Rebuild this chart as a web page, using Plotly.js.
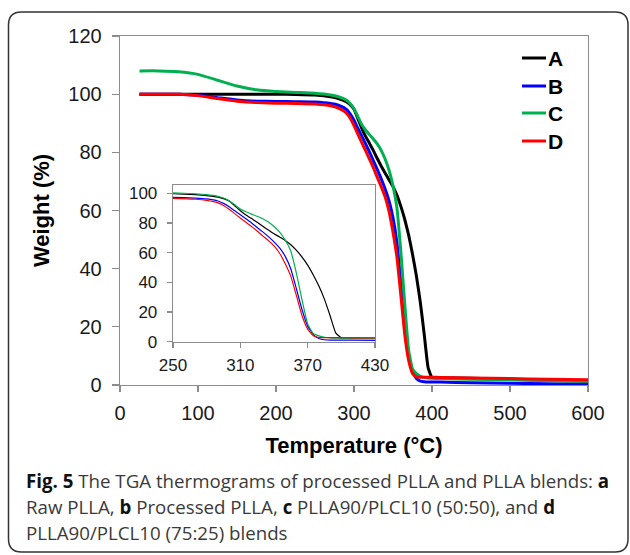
<!DOCTYPE html>
<html>
<head>
<meta charset="utf-8">
<script src="https://cdn.plot.ly/plotly-3.0.1.min.js"></script>
<style>html,body{margin:0;padding:0;background:#fff;}#chart{width:630px;height:555px;}</style>
</head>
<body>
<div id="chart"></div>
<script>
// ---- data ----
const temperature = [25, 50, 75, 100, 125, 150, 175, 200, 225, 250, 270, 280, 290, 295, 300, 305, 310, 315, 320, 325, 330, 335, 340, 345, 350, 355, 360, 365, 370, 375, 380, 385, 390, 395, 400, 410, 450, 500, 550, 600];
const weightA = [100, 100, 100, 100, 100, 100, 100, 100, 99.9, 99.7, 99.1, 98.5, 97.4, 96.4, 94.8, 91.6, 88.2, 85.4, 83, 80.5, 77.8, 75.2, 72.8, 70.5, 68.2, 65.3, 61.5, 57, 51.6, 45, 37.5, 28.5, 17.5, 6, 2.6, 2.5, 2.3, 2, 1.6, 1.3];
const weightB = [100, 100, 100, 99.6, 98.8, 98, 97.6, 97.5, 97.4, 97.3, 96.8, 96.2, 94.8, 93.2, 91, 88.2, 85.6, 82.8, 80, 77, 74, 70.8, 67.3, 63.2, 57.5, 49, 35.5, 21.5, 10.5, 4.8, 2.2, 1.3, 1.1, 1.0, 1.0, 1.0, 0.8, 0.6, 0.4, 0.3];
const weightC = [108, 108, 107.7, 106.8, 104.8, 102.8, 101.5, 100.9, 100.6, 100.3, 99.7, 99.1, 98, 96.8, 95, 92.3, 89.5, 87.6, 86, 84.5, 82.8, 80.6, 77.6, 73.8, 68.5, 61, 46, 28, 12, 5.5, 3.9, 3.0, 2.6, 2.4, 2.3, 2.2, 2.0, 1.8, 1.5, 1.3];
const weightD = [100, 100, 100, 99.5, 98.5, 97.6, 97.1, 96.9, 96.8, 96.6, 96, 95.2, 93.6, 91.8, 89.2, 86.3, 83.3, 80.5, 77.6, 74.6, 71.3, 68.1, 64.6, 59.6, 52.5, 44, 31, 17.5, 8.5, 4, 2.8, 2.7, 2.7, 2.7, 2.7, 2.6, 2.4, 2.2, 2, 1.8];
const seriesNames = ['A', 'B', 'C', 'D'];
const seriesValues = [weightA, weightB, weightC, weightD];
const seriesColors = ['#000000', '#0000ff', '#00b050', '#ff0000'];
const mainYTicks = [0, 20, 40, 60, 80, 100, 120];
const mainXTicks = [0, 100, 200, 300, 400, 500, 600];
const insetXTicks = [250, 310, 370, 430];
const insetYTicks = [0, 20, 40, 60, 80, 100];

// ---- layout helpers (pixel -> paper) ----
const L = 120, R = 588, T = 36, B = 385;
const px = x => (x - L) / (R - L);
const py = y => (B - y) / (B - T);

const traces = [];
seriesNames.forEach((n, i) => {
  traces.push({x: temperature, y: seriesValues[i], name: n, type: 'scatter', mode: 'lines',
    line: {color: seriesColors[i], width: 3, shape: 'spline', smoothing: 0.4}, xaxis: 'x', yaxis: 'y'});
});
seriesNames.forEach((n, i) => {
  traces.push({x: temperature, y: seriesValues[i], name: n, type: 'scatter', mode: 'lines',
    line: {color: seriesColors[i], width: 1.2, shape: 'spline', smoothing: 0.4}, xaxis: 'x2', yaxis: 'y2'});
});

const FAM = 'Liberation Sans';
const tickFont = {family: FAM, size: 20, color: '#1a1a1a'};
const insetFont = {family: FAM, size: 17, color: '#1a1a1a'};
const axisCommon = {showgrid: false, zeroline: false, showline: true, mirror: true, linecolor: '#8c8c8c', linewidth: 1.3,
  ticks: 'outside', tickcolor: '#8c8c8c', tickwidth: 1.3};

// rounded frame
const fx0 = 8.5, fy0 = 12, fx1 = 628, fy1 = 552, r = 13;
const framePath = `M${px(fx0 + r)},${py(fy0)} L${px(fx1 - r)},${py(fy0)} Q${px(fx1)},${py(fy0)} ${px(fx1)},${py(fy0 + r)} ` +
  `L${px(fx1)},${py(fy1 - r)} Q${px(fx1)},${py(fy1)} ${px(fx1 - r)},${py(fy1)} L${px(fx0 + r)},${py(fy1)} ` +
  `Q${px(fx0)},${py(fy1)} ${px(fx0)},${py(fy1 - r)} L${px(fx0)},${py(fy0 + r)} Q${px(fx0)},${py(fy0)} ${px(fx0 + r)},${py(fy0)} Z`;

// legend (drawn as line + label)
const legendY = [58, 86, 113, 141];
const legendShapes = seriesNames.map((n, i) => ({type: 'line', xref: 'paper', yref: 'paper',
  x0: px(522), x1: px(546), y0: py(legendY[i]), y1: py(legendY[i]), line: {color: seriesColors[i], width: 3}}));
const legendAnn = seriesNames.map((n, i) => ({text: '<b>' + n + '</b>', xref: 'paper', yref: 'paper',
  x: px(546), y: py(legendY[i]), xanchor: 'left', yanchor: 'middle', showarrow: false,
  font: {family: FAM, size: 21, color: '#000'}}));

const capFont = {family: 'Open Sans', size: 18.7, color: '#3a3a3a'};
const captionLines = [
  '<b style="color:#111">Fig. 5</b> The TGA thermograms of processed PLLA and PLLA blends: <b style="color:#111">a</b>',
  'Raw PLLA, <b style="color:#111">b</b> Processed PLLA, <b style="color:#111">c</b> PLLA90/PLCL10 (50:50), and <b style="color:#111">d</b>',
  'PLLA90/PLCL10 (75:25) blends'
];
const captionY = [480, 506, 532];
const captionAnn = captionLines.map((t, i) => ({text: t, xref: 'paper', yref: 'paper', x: px(24), y: py(captionY[i]),
  xanchor: 'left', yanchor: 'middle', showarrow: false, align: 'left', font: capFont}));

const layout = {
  width: 630, height: 555,
  margin: {l: L, r: 630 - R, t: T, b: 555 - B},
  paper_bgcolor: '#ffffff', plot_bgcolor: '#ffffff',
  showlegend: false,
  xaxis: Object.assign({}, axisCommon, {range: [0, 600], tickvals: mainXTicks, tickfont: tickFont, domain: [0, 1],
    ticklen: 6, ticklabelstandoff: 4,
    title: {text: '<b>Temperature (°C)</b>', font: {family: FAM, size: 22, color: '#000'}, standoff: 14}}),
  yaxis: Object.assign({}, axisCommon, {range: [0, 120], tickvals: mainYTicks, tickfont: tickFont, domain: [0, 1],
    ticklen: 7, ticklabelstandoff: 6,
    title: {text: '<b>Weight (%)</b>', font: {family: FAM, size: 22, color: '#000'}, standoff: 12}}),
  xaxis2: Object.assign({}, axisCommon, {anchor: 'y2', domain: [px(173), px(375)], range: [250, 430], tickvals: insetXTicks,
    tickfont: insetFont, ticklen: 5, ticklabelstandoff: 3}),
  yaxis2: Object.assign({}, axisCommon, {anchor: 'x2', domain: [py(341.7), py(185)], range: [0, 105.6], tickvals: insetYTicks,
    tickfont: insetFont, ticklen: 5, ticklabelstandoff: 6}),
  shapes: [{type: 'path', xref: 'paper', yref: 'paper', path: framePath, line: {color: '#333', width: 1.5}, layer: 'below'}].concat(legendShapes),
  annotations: legendAnn.concat(captionAnn)
};

Plotly.newPlot('chart', traces, layout, {displayModeBar: false, staticPlot: true});
</script>
</body>
</html>
